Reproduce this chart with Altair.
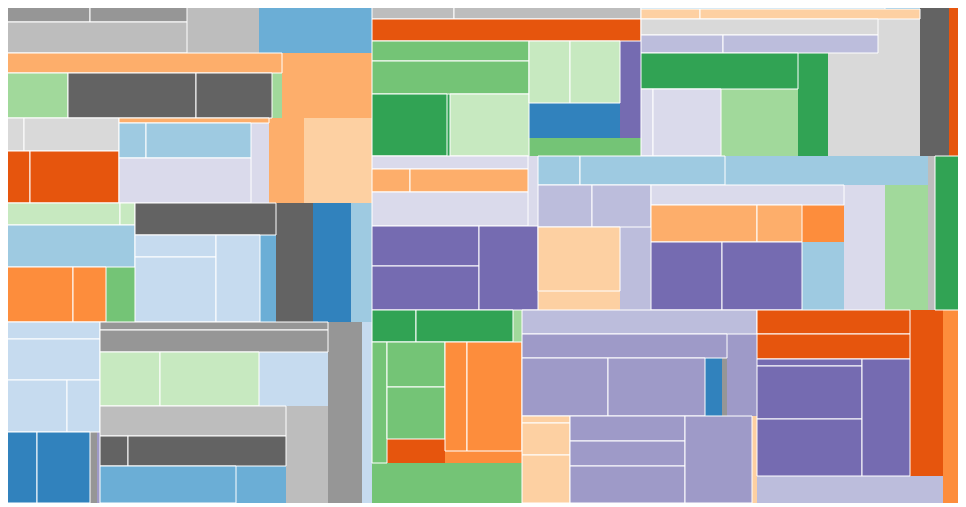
import altair as alt
import pandas as pd

# A group is: name -> (category20c colour index, rows of children, own leftover size).
# A child is either the name of a sub-group or the size of a leaf.
# Every row is laid out squarify style: across the top when the space left is tall,
# down the left side when it is wide; the leftover is the group's own area.
trunk = {
    "root": (None, [["A"], ["B1", "B2", "B3"]], 0),
    "A": (3, [["A1"], ["A2"], ["A3"], ["A4", "A5"]], 0),
}

left = {
    "A1": (1, [["A1a"]], 5650),
    "A1a": (18, [["A1a1", 5704]], 3600),
    "A1a1": (17, [[1653], [1843]], 0),
    "A2": (6, [[5580, "A2g"]], 5850),
    "A2g": (10, [[2925], ["A2d"]], 450),
    "A2d": (16, [[5760], [3420]], 0),
    "A3": (7, [["A3o"]], 5780),
    "A3o": (6, [["A3g", "A3r"], [750, "A3l"]], 2975),
    "A3g": (19, [[693], [3135]], 0),
    "A3r": (4, [[1404], [4628]], 0),
    "A3l": (15, [["A3b", 5940]], 1440),
    "A3b": (2, [[945], [3675]], 0),
    "A4": (2, [["A4c", 5676, "A4g"], ["A4q"]], 2520),
    "A4c": (11, [[2574], [330]], 0),
    "A4g": (9, [["A4o"]], 1595),
    "A4o": (5, [[3850], [1815]], 0),
    "A4q": (0, [["A4d"]], 4560),
    "A4d": (16, [[4512, "A4b"]], 4440),
    "A4b": (1, [["A4s"]], 1408),
    "A4s": (3, [[1863, 5265], [3872]], 0),
    "A5": (3, [[1649, 3977, "A5s", "A5n"], ["A5t"]], 1810),
    "A5s": (3, [[3328], [1716]], 0),
    "A5n": (13, [["A5m"]], 213),
    "A5m": (17, [["A5k"]], 497),
    "A5k": (0, [[2414], [3763]], 0),
    "A5t": (17, [[1824, 5016, "A5c", "A5b"]], 6154),
    "A5c": (3, [["A5e"]], 3726),
    "A5e": (11, [[3240], [5346]], 0),
    "A5b": (18, [[5580, "A5d", "A5f"]], 4074),
    "A5d": (16, [[840], [4740]], 0),
    "A5f": (1, [[5032]], 1850),
}

top = {
    "B1": (10, [["B1a"], ["E"]], 0),
    "B1a": (4, [["B1b", 5918, "G"]], 0),
    "B1b": (18, [[1312], [2992]], 0),
    "G": (9, [[3140, 5181, "X"], ["Gp"]], 2016),
    "X": (11, [["G31"], [4898]], 0),
    "G31": (8, [[4650]], 186),
    "Gp": (12, [["Gb"]], 2037),
    "Gb": (0, [["Gc"]], 3185),
    "Gc": (11, [[2542], [3100]], 0),
    "E": (4, [["D"]], 2142),
    "D": (16, [["C"]], 4437),
    "C": (1, [["C1", "C2", "C3", "C4"]], 0),
    "C1": (1, [[1464]], 210),
    "C2": (7, [[590], [2200]], 0),
    "C3": (19, [["K"]], 1428),
    "K": (19, [[3792, "Kb"]], 0),
    "Kb": (14, [[1476], [2790]], 0),
    "C4": (19, [["C4g"]], 9476),
    "C4g": (8, [[5652, "C4a"]], 3090),
    "C4a": (10, [["C4d"]], 5159),
    "C4d": (15, [[804], [4556]], 0),
}

middle = {
    "B2": (8, [["B2d", "B2p"], ["B2b"], [4340]], 0),
    "B2d": (15, [[2028, "B2f", 5304]], 700),
    "B2f": (6, [[874], [2714]], 0),
    "B2p": (12, [[4387, 4708], [5015]], 0),
    "B2b": (18, [["B2n", "B2a"]], 1085),
    "B2n": (2, [[1218], [4205]], 5887),
    "B2a": (10, [["B2l"]], 5418),
    "B2l": (15, [["B2c"], [3860, "B2o", "B2e"]], 5166),
    "B2c": (14, [[2268, 2478], ["B2y"]], 2604),
    "B2y": (7, [[5330]], 1558),
    "B2o": (5, [["B2h"]], 1554),
    "B2h": (6, [[3922], [1665]], 0),
    "B2e": (2, [["B2v"]], 2898),
    "B2v": (12, [[4899], [5520]], 0),
}

bottom = {
    "B3": (9, [["B3a", "B3g"], ["B3b"], ["B3f"]], 0),
    "B3a": (10, [["B3k"]], 288),
    "B3k": (8, [[1408], [3104]], 0),
    "B3g": (9, [[1815, "B3e", "B3o"]], 6000),
    "B3e": (4, [["B3m"]], 1392),
    "B3m": (9, [[2610], [3016]], 0),
    "B3o": (5, [[2398, 5995]], 924),
    "B3b": (14, [[5640, "B3x", "B3y"]], 0),
    "B3x": (13, [[4920, "B3n"]], 2460),
    "B3n": (17, [["B3c"]], 290),
    "B3c": (0, [["B3v"]], 986),
    "B3v": (13, [[4988], [5626]], 0),
    "B3y": (7, [[336, 1536, 2304], ["B3w"]], 435),
    "B3w": (13, [[2875, 2875, 4255], [5829]], 0),
    "B3f": (5, [["B3r"]], 3860),
    "B3r": (14, [["B3s"]], 5022),
    "B3s": (4, [[3672, 3825, "B3p"]], 5478),
    "B3p": (12, [[735, 5565, 5985], [5616]], 0),
}

groups = {**trunk, **left, **top, **middle, **bottom}


def size(item):
    if isinstance(item, str):
        _, rows, extra = groups[item]
        return sum(size(c) for r in rows for c in r) + extra
    return item


boxes = []


def place(item, parent_tone, x0, y0, x1, y1):
    if not isinstance(item, str):
        boxes.append(dict(x0=x0, y0=y0, x1=x1, y1=y1, tone=parent_tone, kind="leaf"))
        return
    tone, rows, _ = groups[item]
    if tone is not None:
        boxes.append(dict(x0=x0, y0=y0, x1=x1, y1=y1, tone=tone, kind="group"))
    remaining = size(item)
    for r in rows:
        s = sum(size(c) for c in r)
        dx, dy = x1 - x0, y1 - y0
        if dx < dy:
            h = dy * s / remaining
            cx = x0
            for c in r:
                w = dx * size(c) / s
                place(c, tone, cx, y0, cx + w, y0 + h)
                cx += w
            y0 += h
        else:
            w = dx * s / remaining
            cy = y0
            for c in r:
                h = dy * size(c) / s
                place(c, tone, x0, cy, x0 + w, cy + h)
                cy += h
            x0 += w
        remaining -= s


place("root", None, 0, 0, 960, 500)

df = pd.DataFrame(boxes)
for col in ["x0", "y0", "x1", "y1"]:
    df[col] = df[col].round()

# the page leaves 950px of width; show the treemap at 1:1 from x=5 on
x = alt.X("x0:Q", scale=alt.Scale(domain=[5, 955], nice=False, zero=False), axis=None)
y = alt.Y("y0:Q", scale=alt.Scale(domain=[5, 500], nice=False, zero=False, reverse=True), axis=None)
colour = alt.Color("tone:N", scale=alt.Scale(scheme="category20c", domain=list(range(20))), legend=None)

base = alt.Chart(df)
fills = base.transform_filter(alt.datum.kind == "group").mark_rect(strokeWidth=0).encode(
    x=x, x2="x1:Q", y=y, y2="y1:Q", color=colour
)
leaves = base.transform_filter(alt.datum.kind == "leaf").mark_rect(stroke="white", strokeWidth=1).encode(
    x=x, x2="x1:Q", y=y, y2="y1:Q", color=colour
)

chart = (fills + leaves).properties(
    width=950, height=495, padding=0, autosize=alt.AutoSizeParams(type="none")
).configure_view(stroke=None)

chart.save("out.html", embed_options={"renderer": "svg", "actions": False})
